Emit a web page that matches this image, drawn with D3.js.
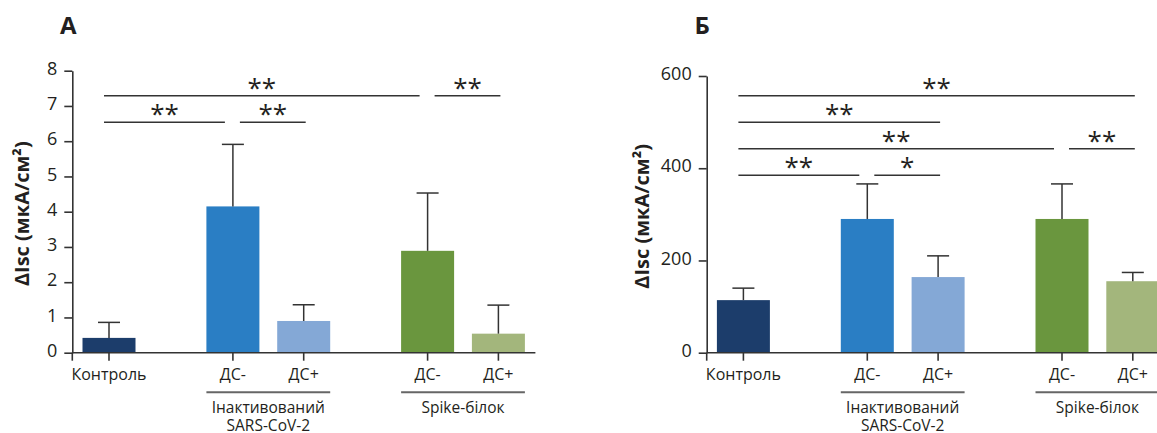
<!DOCTYPE html>
<html>
<head>
<meta charset="utf-8">
<script src="https://cdn.jsdelivr.net/npm/d3@7"></script>
<style>
  body { margin: 0; background: #fff; }
  text { font-family: "Open Sans", "Noto Sans", sans-serif; fill: #231f20; }
</style>
</head>
<body>
<script>
// bar labels, groups
const categories = ["Контроль", "ДС-", "ДС+", "ДС-", "ДС+"];
const groupOf = [0, 1, 1, 2, 2];
const groupNames = [[], ["Інактивований", "SARS-CoV-2"], ["Spike-білок"]];
const colors = ["#1c3d6b", "#2a7ec4", "#84a8d6", "#6a963e", "#a3b67c"];

// panel А
const meanA = [0.42, 4.15, 0.9, 2.89, 0.54];
const errA = [0.44, 1.76, 0.46, 1.64, 0.81];
const ticksA = [0, 1, 2, 3, 4, 5, 6, 7, 8];
// [from, to, label, row]
const sigA = [[0, 1, "**", 2], [1, 2, "**", 2], [0, 3, "**", 1], [3, 4, "**", 1]];

// panel Б
const meanB = [114, 290, 164, 290, 155];
const errB = [26, 76, 46, 76, 19];
const ticksB = [0, 200, 400, 600];
const sigB = [[0, 4, "**", 1], [0, 2, "**", 2], [0, 3, "**", 3], [3, 4, "**", 3], [0, 1, "**", 4], [1, 2, "*", 4]];

const W = 1157, H = 433;
const svg = d3.select("body").append("svg").attr("width", W).attr("height", H);

// slot position: each group starts 1.75 slots after the previous one ends
let slots = [], s = 0;
categories.forEach((c, i) => {
  if (i > 0) s += groupOf[i] === groupOf[i - 1] ? 1 : 1.75;
  slots.push(s);
});

let panel = (ox, letter, mean, err, ticks, sig, yTop, titleX) => {
  let g = svg.append("g").attr("transform", `translate(${ox},0)`);
  let axisX = 72.3, y0 = 352.7;
  let x = d3.scaleLinear().domain([0, 1]).range([axisX + 36.7, axisX + 36.7 + 70.8]);
  let y = d3.scaleLinear().domain([0, d3.max(ticks)]).range([y0, yTop]);
  let bw = 53;

  g.append("text").text(letter).attr("x", 60).attr("y", 34)
    .style("font-size", "24px").style("font-weight", 700);

  // bars
  g.selectAll(".bar").data(mean).enter().append("rect")
    .attr("x", (d, i) => x(slots[i]) - bw / 2)
    .attr("width", bw)
    .attr("y", d => y(d))
    .attr("height", d => y0 - y(d))
    .style("fill", (d, i) => colors[i]);

  // error bars
  let eb = g.selectAll(".err").data(mean).enter().append("g");
  eb.append("line")
    .attr("x1", (d, i) => x(slots[i])).attr("x2", (d, i) => x(slots[i]))
    .attr("y1", d => y(d)).attr("y2", (d, i) => y(d + err[i]))
    .style("stroke", "#333").style("stroke-width", 1.5);
  eb.append("line")
    .attr("x1", (d, i) => x(slots[i]) - 11).attr("x2", (d, i) => x(slots[i]) + 11)
    .attr("y1", (d, i) => y(d + err[i])).attr("y2", (d, i) => y(d + err[i]))
    .style("stroke", "#333").style("stroke-width", 1.5);

  // y axis
  let ya = g.append("g").attr("transform", `translate(${axisX},0)`)
    .call(d3.axisLeft(y).tickValues(ticks).tickSize(8).tickPadding(7).tickSizeOuter(0));
  ya.select(".domain").style("stroke", "#333").style("stroke-width", 1.6);
  ya.selectAll(".tick line").style("stroke", "#333").style("stroke-width", 1.6);
  ya.selectAll(".tick text").style("font-size", "18px").style("font-family", "Open Sans")
    .attr("dy", "0.2em").style("fill", "#231f20");

  // x axis
  let xEnd = x(slots[slots.length - 1]) + 37;
  g.append("line").attr("x1", axisX).attr("x2", xEnd).attr("y1", y0).attr("y2", y0)
    .style("stroke", "#333").style("stroke-width", 1.6);
  let xt = [axisX].concat(slots.map(v => x(v)));
  g.selectAll(".xt").data(xt).enter().append("line")
    .attr("x1", d => d).attr("x2", d => d).attr("y1", y0).attr("y2", y0 + 8)
    .style("stroke", "#333").style("stroke-width", 1.6);

  g.selectAll(".xl").data(categories).enter().append("text")
    .text(d => d)
    .attr("x", (d, i) => x(slots[i])).attr("y", 380)
    .attr("text-anchor", "middle")
    .style("font-size", "16px");

  // group brackets and names
  [1, 2].forEach(gi => {
    let idx = groupOf.map((v, i) => v === gi ? i : -1).filter(i => i >= 0);
    let x1 = x(slots[idx[0]]) - bw / 2, x2 = x(slots[idx[idx.length - 1]]) + bw / 2;
    g.append("line").attr("x1", x1).attr("x2", x2).attr("y1", 392.3).attr("y2", 392.3)
      .style("stroke", "#666").style("stroke-width", 2);
    groupNames[gi].forEach((t, k) => {
      g.append("text").text(t).attr("x", (x1 + x2) / 2).attr("y", 413 + k * 18)
        .attr("text-anchor", "middle").style("font-size", "15.5px");
    });
  });

  // significance lines
  sig.forEach(([a, b, lab, row]) => {
    let ly = 95.7 + (row - 1) * 26.5;
    let startsAtB = sig.some(q => q[3] === row && q[0] === b);
    let x1 = x(slots[a]) + (a === 0 ? -5 : 7);
    let x2 = x(slots[b]) + (startsAtB ? -8 : 2);
    g.append("line").attr("x1", x1).attr("x2", x2).attr("y1", ly).attr("y2", ly)
      .style("stroke", "#333").style("stroke-width", 1.4);
    g.append("text").text(lab).attr("x", (x1 + x2) / 2).attr("y", ly + 1)
      .attr("text-anchor", "middle").style("font-size", "26px");
  });

  // y title
  g.append("text").text("ΔIsc (мкА/см²)")
    .attr("transform", `translate(${titleX},${(y0 + yTop) / 2 + 2}) rotate(-90)`)
    .attr("text-anchor", "middle").attr("dy", "0.35em")
    .style("font-size", "20px").style("font-weight", 700);
};

panel(0, "А", meanA, errA, ticksA, sigA, 70.7, 22);
panel(634.4, "Б", meanB, errB, ticksB, sigB, 76, 7.5);
</script>
</body>
</html>
